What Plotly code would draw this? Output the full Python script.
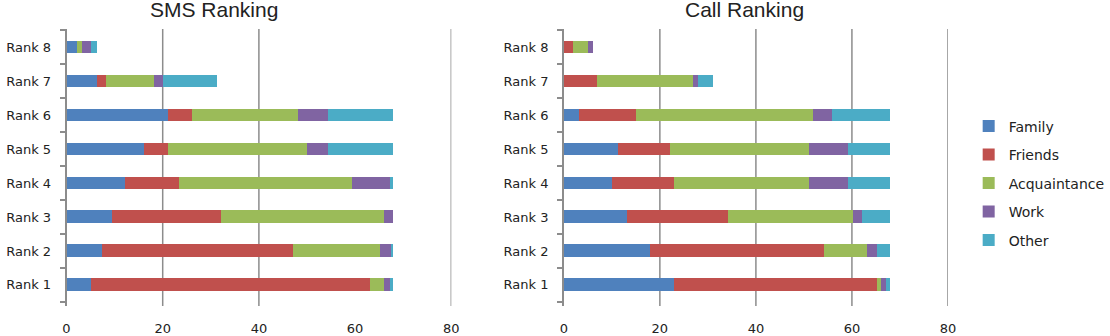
import plotly.graph_objects as go

categories = ["Rank 1", "Rank 2", "Rank 3", "Rank 4", "Rank 5", "Rank 6", "Rank 7", "Rank 8"]
series_names = ["Family", "Friends", "Acquaintance", "Work", "Other"]
colors = ["#4F81BD", "#C0504D", "#9BBB59", "#8064A2", "#4BACC6"]

sms_family = [5.1, 7.3, 9.5, 12.2, 16.2, 21.1, 6.3, 2.2]
sms_friends = [57.9, 39.7, 22.7, 11.1, 4.9, 4.9, 1.9, 0]
sms_acquaintance = [3.1, 18.2, 33.9, 36.1, 29.0, 22.1, 9.9, 1.1]
sms_work = [1.2, 2.2, 1.8, 7.9, 4.3, 6.2, 2.05, 1.85]
sms_other = [0.6, 0.5, 0, 0.5, 13.5, 13.5, 11.1, 1.2]

call_family = [22.9, 18.0, 13.1, 10.0, 11.3, 3.2, 0, 0]
call_friends = [42.3, 36.2, 21.0, 13.0, 10.8, 11.8, 6.9, 2.0]
call_acquaintance = [0.9, 9.0, 26.2, 28.1, 29.0, 36.9, 20.0, 3.1]
call_work = [0.9, 2.1, 1.85, 8.0, 8.0, 4.0, 1.0, 1.0]
call_other = [1.0, 2.7, 5.8, 8.9, 8.9, 12.0, 3.1, 0]

x_ticks = [0, 20, 40, 60, 80]
sms_grid = [20, 40, 80]
call_grid = [20, 40, 60, 80]

sms = [sms_family, sms_friends, sms_acquaintance, sms_work, sms_other]
call = [call_family, call_friends, call_acquaintance, call_work, call_other]

W, H = 1110, 336
top, bottom = 29, 306.7

fig = go.Figure()
for i, name in enumerate(series_names):
    fig.add_trace(go.Bar(y=categories, x=sms[i], orientation="h", name=name,
                         marker=dict(color=colors[i], line=dict(width=0)),
                         xaxis="x", yaxis="y", legendgroup=name, showlegend=True))
for i, name in enumerate(series_names):
    fig.add_trace(go.Bar(y=categories, x=call[i], orientation="h", name=name,
                         marker=dict(color=colors[i], line=dict(width=0)),
                         xaxis="x2", yaxis="y2", legendgroup=name, showlegend=False))

grid_color = "#8C8C8C"
tick_font = dict(family="DejaVu Sans", size=13, color="#222222")

xcommon = dict(range=[0, 80], tickvals=x_ticks, showgrid=False, zeroline=False,
               showline=False, ticks="", tickfont=tick_font, ticklabelstandoff=13, fixedrange=True)
ycommon = dict(type="category", categoryorder="array", categoryarray=categories,
               range=[-0.62, 7.53], showgrid=False, zeroline=False, showline=True,
               linecolor=grid_color, linewidth=1.5, ticks="outside", tickson="boundaries",
               ticklen=5, tickcolor=grid_color, tickwidth=1.5, tickfont=tick_font,
               ticklabelstandoff=11, fixedrange=True)

fig.update_layout(
    width=W, height=H,
    margin=dict(l=0, r=0, t=top, b=H - bottom, pad=0),
    paper_bgcolor="white", plot_bgcolor="white",
    barmode="stack", bargap=0.62,
    xaxis=dict(domain=[63.3 / W, 453 / W], anchor="y", **xcommon),
    yaxis=dict(domain=[0, 1], anchor="x", **ycommon),
    xaxis2=dict(domain=[567 / W, 956 / W], anchor="y2", **xcommon),
    yaxis2=dict(domain=[0, 1], anchor="x2", **ycommon),
    legend=dict(x=977 / W, xanchor="left", y=0.706, yanchor="top",
                traceorder="grouped", tracegroupgap=7.3,
                font=dict(family="DejaVu Sans", size=14, color="#222222"),
                bgcolor="rgba(0,0,0,0)"),
    showlegend=True,
)

for g in sms_grid:
    fig.add_shape(type="line", xref="x", yref="y domain", x0=g, x1=g, y0=0, y1=1,
                  line=dict(color=grid_color, width=1.5), layer="below")
for g in call_grid:
    fig.add_shape(type="line", xref="x2", yref="y2 domain", x0=g, x1=g, y0=0, y1=1,
                  line=dict(color=grid_color, width=1.5), layer="below")

title_font = dict(family="Liberation Sans", size=21, color="#222222")
title_y = 1 + (top - 9.5) / (bottom - top)
fig.add_annotation(text="SMS Ranking", x=213 / W, xref="paper", xanchor="center",
                   y=title_y, yref="paper", yanchor="middle",
                   showarrow=False, font=title_font)
fig.add_annotation(text="Call Ranking", x=750 / W, xref="paper", xanchor="center",
                   y=title_y, yref="paper", yanchor="middle",
                   showarrow=False, font=title_font)

fig.write_html("out.html")
